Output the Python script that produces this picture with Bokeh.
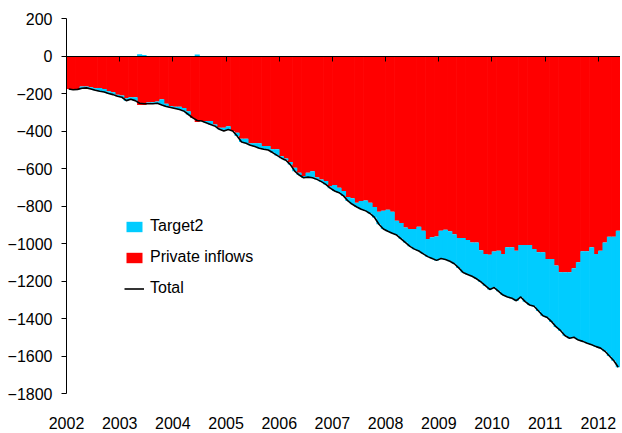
from bokeh.plotting import figure
from bokeh.models import (ColumnDataSource, Range1d, LinearAxis, FixedTicker,
                          Legend, LegendItem)
from bokeh.embed import file_html
from bokeh.resources import INLINE

# Monthly data, Jan 2002 .. May 2012 (EUR bn, cumulative)
start_year = 2002
private_inflows = [
    -176, -179, -176, -162, -162, -167, -172, -170, -176, -188, -193, -206,
    -210, -225, -220, -220, -261, -261, -248, -246, -243, -231, -255, -266,
    -271, -271, -277, -294, -330, -352, -347, -347, -347, -365, -383, -383,
    -374, -400, -409, -441, -441, -465, -465, -465, -480, -480, -497, -497,
    -534, -547, -565, -596, -623, -640, -623, -614, -646, -658, -667, -693,
    -688, -702, -720, -752, -759, -782, -773, -770, -782, -805, -830, -825,
    -820, -831, -879, -891, -914, -923, -923, -910, -932, -976, -967, -962,
    -932, -927, -935, -950, -971, -971, -981, -994, -994, -1036, -1056, -1060,
    -1043, -1038, -1056, -1020, -1020, -1038, -1008, -1008, -1008, -1029, -1047, -1047,
    -1082, -1082, -1117, -1153, -1153, -1153, -1132, -1100, -1041, -1041, -1020, -1056,
    -1038, -994, -964, -964, -932,
]
target2 = [
    0, -1, -2, -10, -8, -9, -11, -18, -16, -12, -13, -9,
    -10, -13, -11, -18, 9, 6, -7, -9, -9, -30, -14, -9,
    -9, -14, -17, -18, 0, 8, 0, -9, -18, -9, -8, -17,
    -18, 0, -18, -18, -24, -11, -18, -27, -17, -21, -18, -33,
    -11, -9, -14, -18, -12, -9, -23, -35, -12, -12, -18, -12,
    -32, -27, -26, -21, -32, -23, -44, -56, -58, -56, -67, -98,
    -115, -114, -76, -84, -81, -92, -107, -130, -123, -94, -113, -128,
    -148, -158, -160, -158, -159, -184, -184, -181, -194, -169, -169, -185,
    -192, -217, -219, -265, -272, -267, -277, -302, -320, -306, -313, -338,
    -313, -336, -328, -312, -339, -352, -368, -415, -481, -491, -520, -494,
    -520, -581, -636, -661, -728,
]
year_ticks = list(range(2002, 2013))
year_labels = [str(y) for y in year_ticks]
y_ticks = list(range(-1800, 201, 200))
series_names = ["Target2", "Private inflows", "Total"]
colors = {"Target2": "#00CCFF", "Private inflows": "#FF0000", "Total": "#000000"}

n = len(private_inflows)
xs = [start_year + (i + 0.5) / 12 for i in range(n)]
total = [p + t for p, t in zip(private_inflows, target2)]
cy_top = [t if t > 0 else p for p, t in zip(private_inflows, target2)]
cy_bot = [0 if t > 0 else p + t for p, t in zip(private_inflows, target2)]

src = ColumnDataSource(dict(x=xs, p=private_inflows, zero=[0] * n,
                            ct=cy_top, cb=cy_bot, total=total))

FONT = "Liberation Sans"

p = figure(width=620, height=431, output_backend="svg", toolbar_location=None,
           x_range=Range1d(start_year, start_year + n / 12),
           y_range=Range1d(-1800, 200), x_axis_type=None,
           min_border_left=66, min_border_right=0, min_border_top=18,
           min_border_bottom=36)
p.outline_line_color = None
p.xgrid.visible = False
p.ygrid.visible = False
p.background_fill_color = "white"

bar_w = 1.15 / 12
r_red = p.vbar(x="x", top="zero", bottom="p", width=bar_w, source=src,
               fill_color=colors["Private inflows"], line_color=None)
r_cyan = p.vbar(x="x", top="ct", bottom="cb", width=bar_w, source=src,
                fill_color=colors["Target2"], line_color=None)
r_line = p.line(x="x", y="total", source=src, line_color=colors["Total"],
                line_width=1.6)

# y axis
ya = p.yaxis[0]
ya.ticker = FixedTicker(ticks=y_ticks)
ya.minor_tick_line_color = None
ya.major_tick_in = 0
ya.major_tick_out = 5
ya.major_label_standoff = 9
ya.axis_line_color = "black"
ya.major_tick_line_color = "black"
ya.major_label_text_font = FONT
ya.major_label_text_font_size = "16px"
ya.major_label_text_color = "black"

# bottom labels axis
xa = LinearAxis(ticker=FixedTicker(ticks=year_ticks),
                major_label_overrides={y: s for y, s in zip(year_ticks, year_labels)})
xa.axis_line_color = None
xa.major_tick_line_color = None
xa.minor_tick_line_color = None
xa.major_tick_in = 0
xa.major_tick_out = 0
xa.major_label_standoff = 23
xa.major_label_text_font = FONT
xa.major_label_text_font_size = "16px"
xa.major_label_text_color = "black"
p.add_layout(xa, "below")

# zero line axis with year ticks
za = LinearAxis(ticker=FixedTicker(ticks=year_ticks), fixed_location=0)
za.axis_line_color = "black"
za.axis_line_width = 1
za.major_tick_line_color = "black"
za.minor_tick_line_color = None
za.major_tick_in = 0
za.major_tick_out = 5
za.major_label_text_font_size = "0px"
za.major_label_text_alpha = 0
p.add_layout(za, "below")

legend = Legend(items=[
    LegendItem(label=series_names[0], renderers=[r_cyan]),
    LegendItem(label=series_names[1], renderers=[r_red]),
    LegendItem(label=series_names[2], renderers=[r_line]),
], location=(58, 95))
legend.border_line_color = None
legend.background_fill_alpha = 0
legend.padding = 0
legend.margin = 0
legend.spacing = 11
legend.glyph_width = 20
legend.glyph_height = 13
legend.label_height = 20
legend.label_standoff = 6
legend.label_text_font = FONT
legend.label_text_font_size = "16px"
legend.label_text_color = "black"
p.add_layout(legend, "center")

open("out.html", "w").write(file_html(p, INLINE))
